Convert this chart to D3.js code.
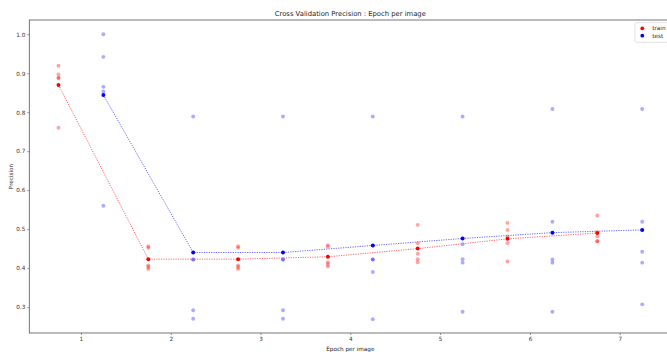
<!DOCTYPE html>
<html>
<head>
<meta charset="utf-8">
<script src="https://cdn.jsdelivr.net/npm/d3@7"></script>
<style>
  html, body { margin: 0; padding: 0; background: #fff; }
  svg { display: block; font-family: "DejaVu Sans", sans-serif; }
</style>
</head>
<body>
<svg id="chart" width="667" height="352"></svg>
<script>
// ---- data ----
const trainX = [0.75, 1.75, 2.75, 3.75, 4.75, 5.75, 6.75];
const testX  = [1.25, 2.25, 3.25, 4.25, 5.25, 6.25, 7.25];
const trainFolds = [
  [0.919, 0.897, 0.888, 0.888, 0.760],
  [0.456, 0.452, 0.407, 0.403, 0.398],
  [0.456, 0.452, 0.407, 0.403, 0.398],
  [0.459, 0.455, 0.415, 0.410, 0.404],
  [0.511, 0.464, 0.437, 0.423, 0.415],
  [0.516, 0.498, 0.481, 0.464, 0.417],
  [0.535, 0.492, 0.481, 0.469, 0.469]
];
const trainMean = [0.870, 0.423, 0.423, 0.429, 0.450, 0.475, 0.490];
const testFolds = [
  [1.000, 0.942, 0.865, 0.853, 0.560],
  [0.789, 0.422, 0.422, 0.292, 0.270],
  [0.789, 0.422, 0.422, 0.292, 0.270],
  [0.789, 0.422, 0.422, 0.390, 0.269],
  [0.789, 0.461, 0.423, 0.414, 0.288],
  [0.808, 0.519, 0.422, 0.414, 0.288],
  [0.808, 0.519, 0.442, 0.414, 0.307]
];
const testMean = [0.844, 0.440, 0.440, 0.458, 0.476, 0.491, 0.498];
const xTicks = [1, 2, 3, 4, 5, 6, 7];
const yTicks = [0.3, 0.4, 0.5, 0.6, 0.7, 0.8, 0.9, 1.0];
const title = "Cross Validation Precision : Epoch per image";
const xLabel = "Epoch per image";
const yLabel = "Precision";
const seriesNames = ["train", "test"];

// ---- layout ----
const svg = d3.select("#chart");
const L = 29.3, R = 671.4, T = 20, B = 333;
const x = d3.scaleLinear().domain([0.425, 7.575]).range([L, R]);
const y = d3.scaleLinear().domain([0.2335, 1.0365]).range([B, T]);

const series = [
  {name: seriesNames[0], xs: trainX, folds: trainFolds, mean: trainMean, color: "#ff0000", lineColor: "#ff5555", light: "rgba(255,0,0,0.36)"},
  {name: seriesNames[1], xs: testX, folds: testFolds, mean: testMean, color: "#0000ff", lineColor: "#5555ff", light: "rgba(0,0,255,0.33)"}
];

// fold points
series.forEach(s => {
  const pts = [];
  s.xs.forEach((xv, i) => s.folds[i].forEach(v => pts.push([xv, v])));
  svg.append("g").selectAll("circle").data(pts).join("circle")
    .attr("cx", d => x(d[0])).attr("cy", d => y(d[1])).attr("r", 1.95)
    .attr("fill", s.light);
});

// mean lines and points
series.forEach(s => {
  const line = d3.line().x((d, i) => x(s.xs[i])).y(d => y(d));
  svg.append("path").datum(s.mean).attr("d", line)
    .attr("fill", "none").attr("stroke", s.lineColor).attr("stroke-width", 0.9)
    .attr("stroke-dasharray", "1.2,1.2");
  svg.append("g").selectAll("circle").data(s.mean).join("circle")
    .attr("cx", (d, i) => x(s.xs[i])).attr("cy", d => y(d)).attr("r", 2)
    .attr("fill", s.color);
});

// axes
const fs = 5.7;
const xAxis = svg.append("g").attr("transform", `translate(0,${B})`)
  .call(d3.axisBottom(x).tickValues(xTicks).tickFormat(d3.format("d")).tickSize(2).tickPadding(2));
const yAxis = svg.append("g").attr("transform", `translate(${L},0)`)
  .call(d3.axisLeft(y).tickValues(yTicks).tickFormat(d3.format(".1f")).tickSize(2).tickPadding(2));
[xAxis, yAxis].forEach(a => {
  a.selectAll("text").attr("font-size", fs).attr("fill", "#333").attr("font-family", "DejaVu Sans, sans-serif");
  a.selectAll("line").attr("stroke", "#555").attr("stroke-width", 0.6);
  a.select(".domain").remove();
});

// spines
svg.append("rect").attr("x", L).attr("y", T).attr("width", R - L).attr("height", B - T)
  .attr("fill", "none").attr("stroke", "#555").attr("stroke-width", 0.8);

// title and labels
svg.append("text").attr("x", (L + R) / 2).attr("y", 16.3).attr("text-anchor", "middle")
  .attr("font-size", 6.8).attr("fill", "#222").text(title);
svg.append("text").attr("x", (L + R) / 2).attr("y", 350.5).attr("text-anchor", "middle")
  .attr("font-size", fs).attr("fill", "#222").text(xLabel);
svg.append("text").attr("transform", `translate(12.5,${(T + B) / 2}) rotate(-90)`)
  .attr("text-anchor", "middle").attr("font-size", fs).attr("fill", "#222").text(yLabel);

// legend
const lg = svg.append("g");
lg.append("rect").attr("x", 635).attr("y", 22.7).attr("width", 36).attr("height", 19.6)
  .attr("rx", 1.5).attr("fill", "rgba(255,255,255,0.8)").attr("stroke", "#ccc").attr("stroke-width", 0.6);
series.forEach((s, i) => {
  const cy = 28.3 + i * 7.4;
  lg.append("circle").attr("cx", 642.3).attr("cy", cy).attr("r", 1.9).attr("fill", s.color);
  lg.append("text").attr("x", 652.3).attr("y", cy).attr("dy", "0.35em")
    .attr("font-size", fs).attr("fill", "#222").text(s.name);
});
</script>
</body>
</html>
